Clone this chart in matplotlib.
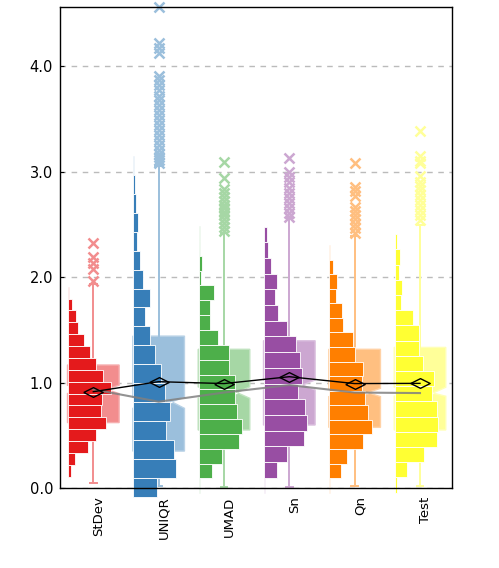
import matplotlib
matplotlib.use("Agg")
import matplotlib.pyplot as plt
import numpy as np

# categories and colours
cats = ['StDev', 'UNIQR', 'UMAD', 'Sn', 'Qn', 'Test']
colors = ['#e41a1c', '#377eb8', '#4daf4a', '#984ea3', '#ff7f00', '#ffff33']

# histogram bins: lowest edge, highest edge, bar counts (bottom to top)
hist_lo = [0.107, -0.082, -0.050, -0.050, -0.044, -0.044]
hist_hi = [1.908, 3.147, 2.483, 2.477, 2.303, 2.407]
hist_counts = [
    [10, 22, 61, 85, 115, 100, 102, 130, 107, 85, 67, 48, 31, 25, 13, 4],
    [73, 130, 122, 98, 110, 95, 83, 65, 52, 37, 52, 31, 22, 13, 16, 10, 7, 3],
    [3, 42, 72, 123, 130, 115, 109, 109, 91, 93, 60, 36, 36, 48, 9, 12, 6, 6],
    [3, 40, 69, 120, 130, 124, 103, 115, 109, 96, 69, 42, 33, 39, 21, 12, 9],
    [3, 36, 54, 102, 129, 117, 108, 97, 100, 78, 72, 42, 39, 21, 24, 12, 3],
    [8, 39, 90, 129, 130, 127, 112, 118, 87, 75, 75, 57, 21, 24, 15, 18, 9],
]

# box statistics
q1 = [0.620, 0.350, 0.550, 0.597, 0.575, 0.550]
q3 = [1.166, 1.440, 1.315, 1.396, 1.315, 1.333]
med = [0.935, 0.818, 0.905, 0.976, 0.905, 0.900]
cilo = [0.895, 0.755, 0.850, 0.929, 0.866, 0.870]
cihi = [0.975, 0.860, 0.960, 1.024, 0.945, 0.955]
whislo = [0.044, 0.020, 0.012, 0.012, 0.020, 0.020]
whishi = [1.930, 3.050, 2.414, 2.556, 2.389, 2.493]
means = [0.913, 1.008, 0.990, 1.055, 0.990, 0.992]
fliers = [
    [1.962, 2.073, 2.13, 2.187, 2.325],
    [3.08, 3.11, 3.14, 3.17, 3.2, 3.25, 3.3, 3.346, 3.393, 3.44, 3.488, 3.535,
     3.58, 3.63, 3.678, 3.72, 3.77, 3.82, 3.867, 3.905, 4.12, 4.17, 4.215, 4.556],
    [2.439, 2.471, 2.509, 2.55, 2.588, 2.618, 2.65, 2.682, 2.723, 2.761, 2.799,
     2.834, 2.935, 3.087],
    [2.572, 2.604, 2.651, 2.699, 2.746, 2.793, 2.84, 2.903, 2.951, 2.998, 3.125],
    [2.42, 2.461, 2.502, 2.547, 2.588, 2.629, 2.667, 2.768, 2.818, 2.856, 3.078],
    [2.54, 2.588, 2.635, 2.682, 2.73, 2.777, 2.825, 2.863, 2.903, 2.957, 3.078,
     3.102, 3.147, 3.384],
]


def lighten(c, a=0.5):
    rgb = np.array(matplotlib.colors.to_rgb(c))
    return tuple(rgb * a + (1 - a))


fig = plt.figure(figsize=(4.99, 5.68), dpi=100)
ax = fig.add_axes([60 / 499, 1 - 488 / 568, 392 / 499, 481 / 568])

pos = np.arange(len(cats))
box_w = 0.79
base_off = 0.39
hist_len = 0.66

# boxes
stats = []
for i in range(len(cats)):
    stats.append(dict(med=med[i], q1=q1[i], q3=q3[i], whislo=whislo[i], whishi=whishi[i],
                      fliers=fliers[i], mean=means[i], cilo=cilo[i], cihi=cihi[i]))
bp = ax.bxp(stats, positions=pos, widths=box_w, capwidths=0.1, shownotches=True,
            patch_artist=True, showmeans=False, manage_ticks=False,
            medianprops=dict(color='white', lw=1),
            flierprops=dict(marker='x', markersize=7, markeredgewidth=1.8))
for i, c in enumerate(colors):
    lc = lighten(c)
    bp['boxes'][i].set_facecolor(lc)
    bp['boxes'][i].set_edgecolor(lighten(c, 0.35))
    bp['boxes'][i].set_linewidth(1)
    bp['boxes'][i].set_zorder(2)
    for w in bp['whiskers'][2 * i:2 * i + 2] + bp['caps'][2 * i:2 * i + 2]:
        w.set_color(lc)
        w.set_linewidth(1.4)
    bp['fliers'][i].set_markeredgecolor(lc)
    bp['fliers'][i].set_clip_on(False)
    bp['medians'][i].set_zorder(2.5)

# histograms
for i, c in enumerate(colors):
    counts = np.array(hist_counts[i], dtype=float)
    edges = np.linspace(hist_lo[i], hist_hi[i], len(counts) + 1)
    ax.barh(edges[:-1], counts / counts.max() * hist_len, height=np.diff(edges),
            left=pos[i] - base_off, align='edge', color=c, edgecolor='white',
            linewidth=0.6, zorder=3, clip_on=False)

# median and mean lines
ax.plot(pos, med, color='#808080', lw=1.5, alpha=0.85, zorder=4)
diamond = [(-1, 0), (0, 0.5), (1, 0), (0, -0.5), (-1, 0)]
ax.plot(pos, means, color='black', lw=1, marker=diamond, markersize=14,
        markerfacecolor='none', markeredgecolor='black', markeredgewidth=1, zorder=5)

ax.set_xlim(-0.51, 5.49)
ax.set_ylim(0, 4.56)
ax.set_yticks([0, 1, 2, 3, 4])
ax.set_yticklabels(['0.0', '1.0', '2.0', '3.0', '4.0'], fontsize=10.5)
ax.set_xticks(pos + 0.08)
ax.set_xticklabels(cats, rotation=90, fontsize=9.5)
ax.tick_params(axis='y', direction='in', length=3, pad=5)
ax.tick_params(axis='x', length=0, pad=6)
ax.yaxis.grid(True, linestyle=(0, (4, 4)), color='#bbbbbb', lw=1)
ax.set_axisbelow(True)
for s in ax.spines.values():
    s.set_linewidth(1)
    s.set_zorder(6)

fig.savefig('out.png', dpi=100)
